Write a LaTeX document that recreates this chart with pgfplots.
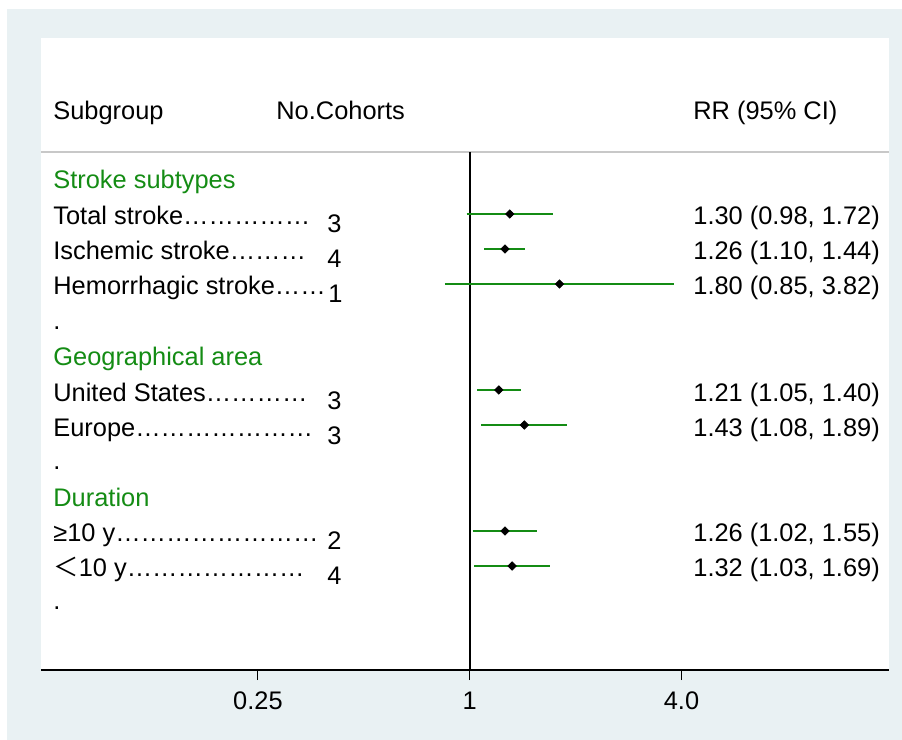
\documentclass[border=0pt]{standalone}
\usepackage{fontspec}
\setmainfont{Liberation Sans}
\newfontfamily\cjk{Noto Sans CJK SC}
\usepackage{pgfplots}
\pgfplotsset{compat=1.18}
\definecolor{bgblue}{RGB}{233,241,243}
\definecolor{sgreen}{RGB}{20,140,20}
\definecolor{lgray}{RGB}{200,200,200}
\newcommand\fs{\fontsize{12.7bp}{15bp}\selectfont}
\newcommand\el[1]{\foreach\i in {1,...,#1}{\char"2026}}
\begin{document}
\begin{tikzpicture}[font=\fs]
\fill[white] (-20.5bp,-35bp) rectangle (430.5bp,335bp);
\fill[bgblue] (-17bp,-35bp) rectangle (430.5bp,330.5bp);
\begin{axis}[
  at={(0,0)}, anchor=south west,
  scale only axis, width=424bp, height=316bp,
  xmode=log, log basis x=2,
  xmin=0.06043, xmax=15.56,
  ymin=-670, ymax=-38,
  axis x line*=bottom, axis y line=none,
  axis background/.style={fill=white},
  x axis line style={black, line width=1bp, -},
  xtick={0.25,1,4}, xticklabels={0.25,1,4.0},
  xtick align=outside, major tick length=5bp,
  minor xtick={},
  xtick style={black, line width=0.5bp},
  xticklabel style={font=\fs, yshift=-2.3bp},
  clip=false,
]
\draw[lgray, line width=0.75bp] (axis cs:0.06043,-152) -- (axis cs:15.56,-152);
\addplot[black, line width=0.8bp] coordinates {(1,-152) (1,-670)};
% confidence intervals
\addplot[sgreen, line width=1bp] coordinates {(0.98,-214) (1.72,-214)};
\addplot[sgreen, line width=1bp] coordinates {(1.10,-249) (1.44,-249)};
\addplot[sgreen, line width=1bp] coordinates {(0.85,-284) (3.82,-284)};
\addplot[sgreen, line width=1bp] coordinates {(1.05,-390) (1.40,-390)};
\addplot[sgreen, line width=1bp] coordinates {(1.08,-425) (1.89,-425)};
\addplot[sgreen, line width=1bp] coordinates {(1.02,-531) (1.55,-531)};
\addplot[sgreen, line width=1bp] coordinates {(1.03,-566) (1.69,-566)};
% point estimates
\addplot[only marks, mark=square*, mark size=1.45bp, mark options={rotate=45, fill=black, draw=black}]
  coordinates {(1.30,-214) (1.26,-249) (1.80,-284) (1.21,-390) (1.43,-425) (1.26,-531) (1.32,-566)};
\end{axis}
\begin{scope}[x=0.5bp, y=-0.5bp, shift={(-20.5bp,335bp)}, every node/.style={anchor=base west, inner sep=0pt}]
\node at (53,120) {Subgroup};
\node at (276,120) {No.Cohorts};
\node at (693,120) {RR (95\% CI)};
\node[text=sgreen] at (53,189) {Stroke subtypes};
\node at (53,225) {Total stroke\el{5}};
\node at (327,233) {3};
\node at (693,225) {1.30 (0.98, 1.72)};
\node at (53,260) {Ischemic stroke\el{3}};
\node at (327,268) {4};
\node at (693,260) {1.26 (1.10, 1.44)};
\node at (53,295) {Hemorrhagic stroke\el{2}};
\node at (328,303) {1};
\node at (693,295) {1.80 (0.85, 3.82)};
\node at (53,330) {.};
\node[text=sgreen] at (53,366) {Geographical area};
\node at (53,401.5) {United States\el{4}};
\node at (327,409.5) {3};
\node at (693,401.5) {1.21 (1.05, 1.40)};
\node at (53,436.5) {Europe\el{7}};
\node at (327,444.5) {3};
\node at (693,436.5) {1.43 (1.08, 1.89)};
\node at (53,470) {.};
\node[text=sgreen] at (53,507) {Duration};
\node at (53,542) {≥10 y\el{8}};
\node at (327,550) {2};
\node at (693,542) {1.26 (1.02, 1.55)};
\node at (53,577) {{\cjk ＜}10 y\el{7}};
\node at (327,585) {4};
\node at (693,577) {1.32 (1.03, 1.69)};
\node at (53,610) {.};
\end{scope}
\pgfresetboundingbox
\path (-20.5bp,-35bp) rectangle (430.5bp,335bp);
\end{tikzpicture}
\end{document}
